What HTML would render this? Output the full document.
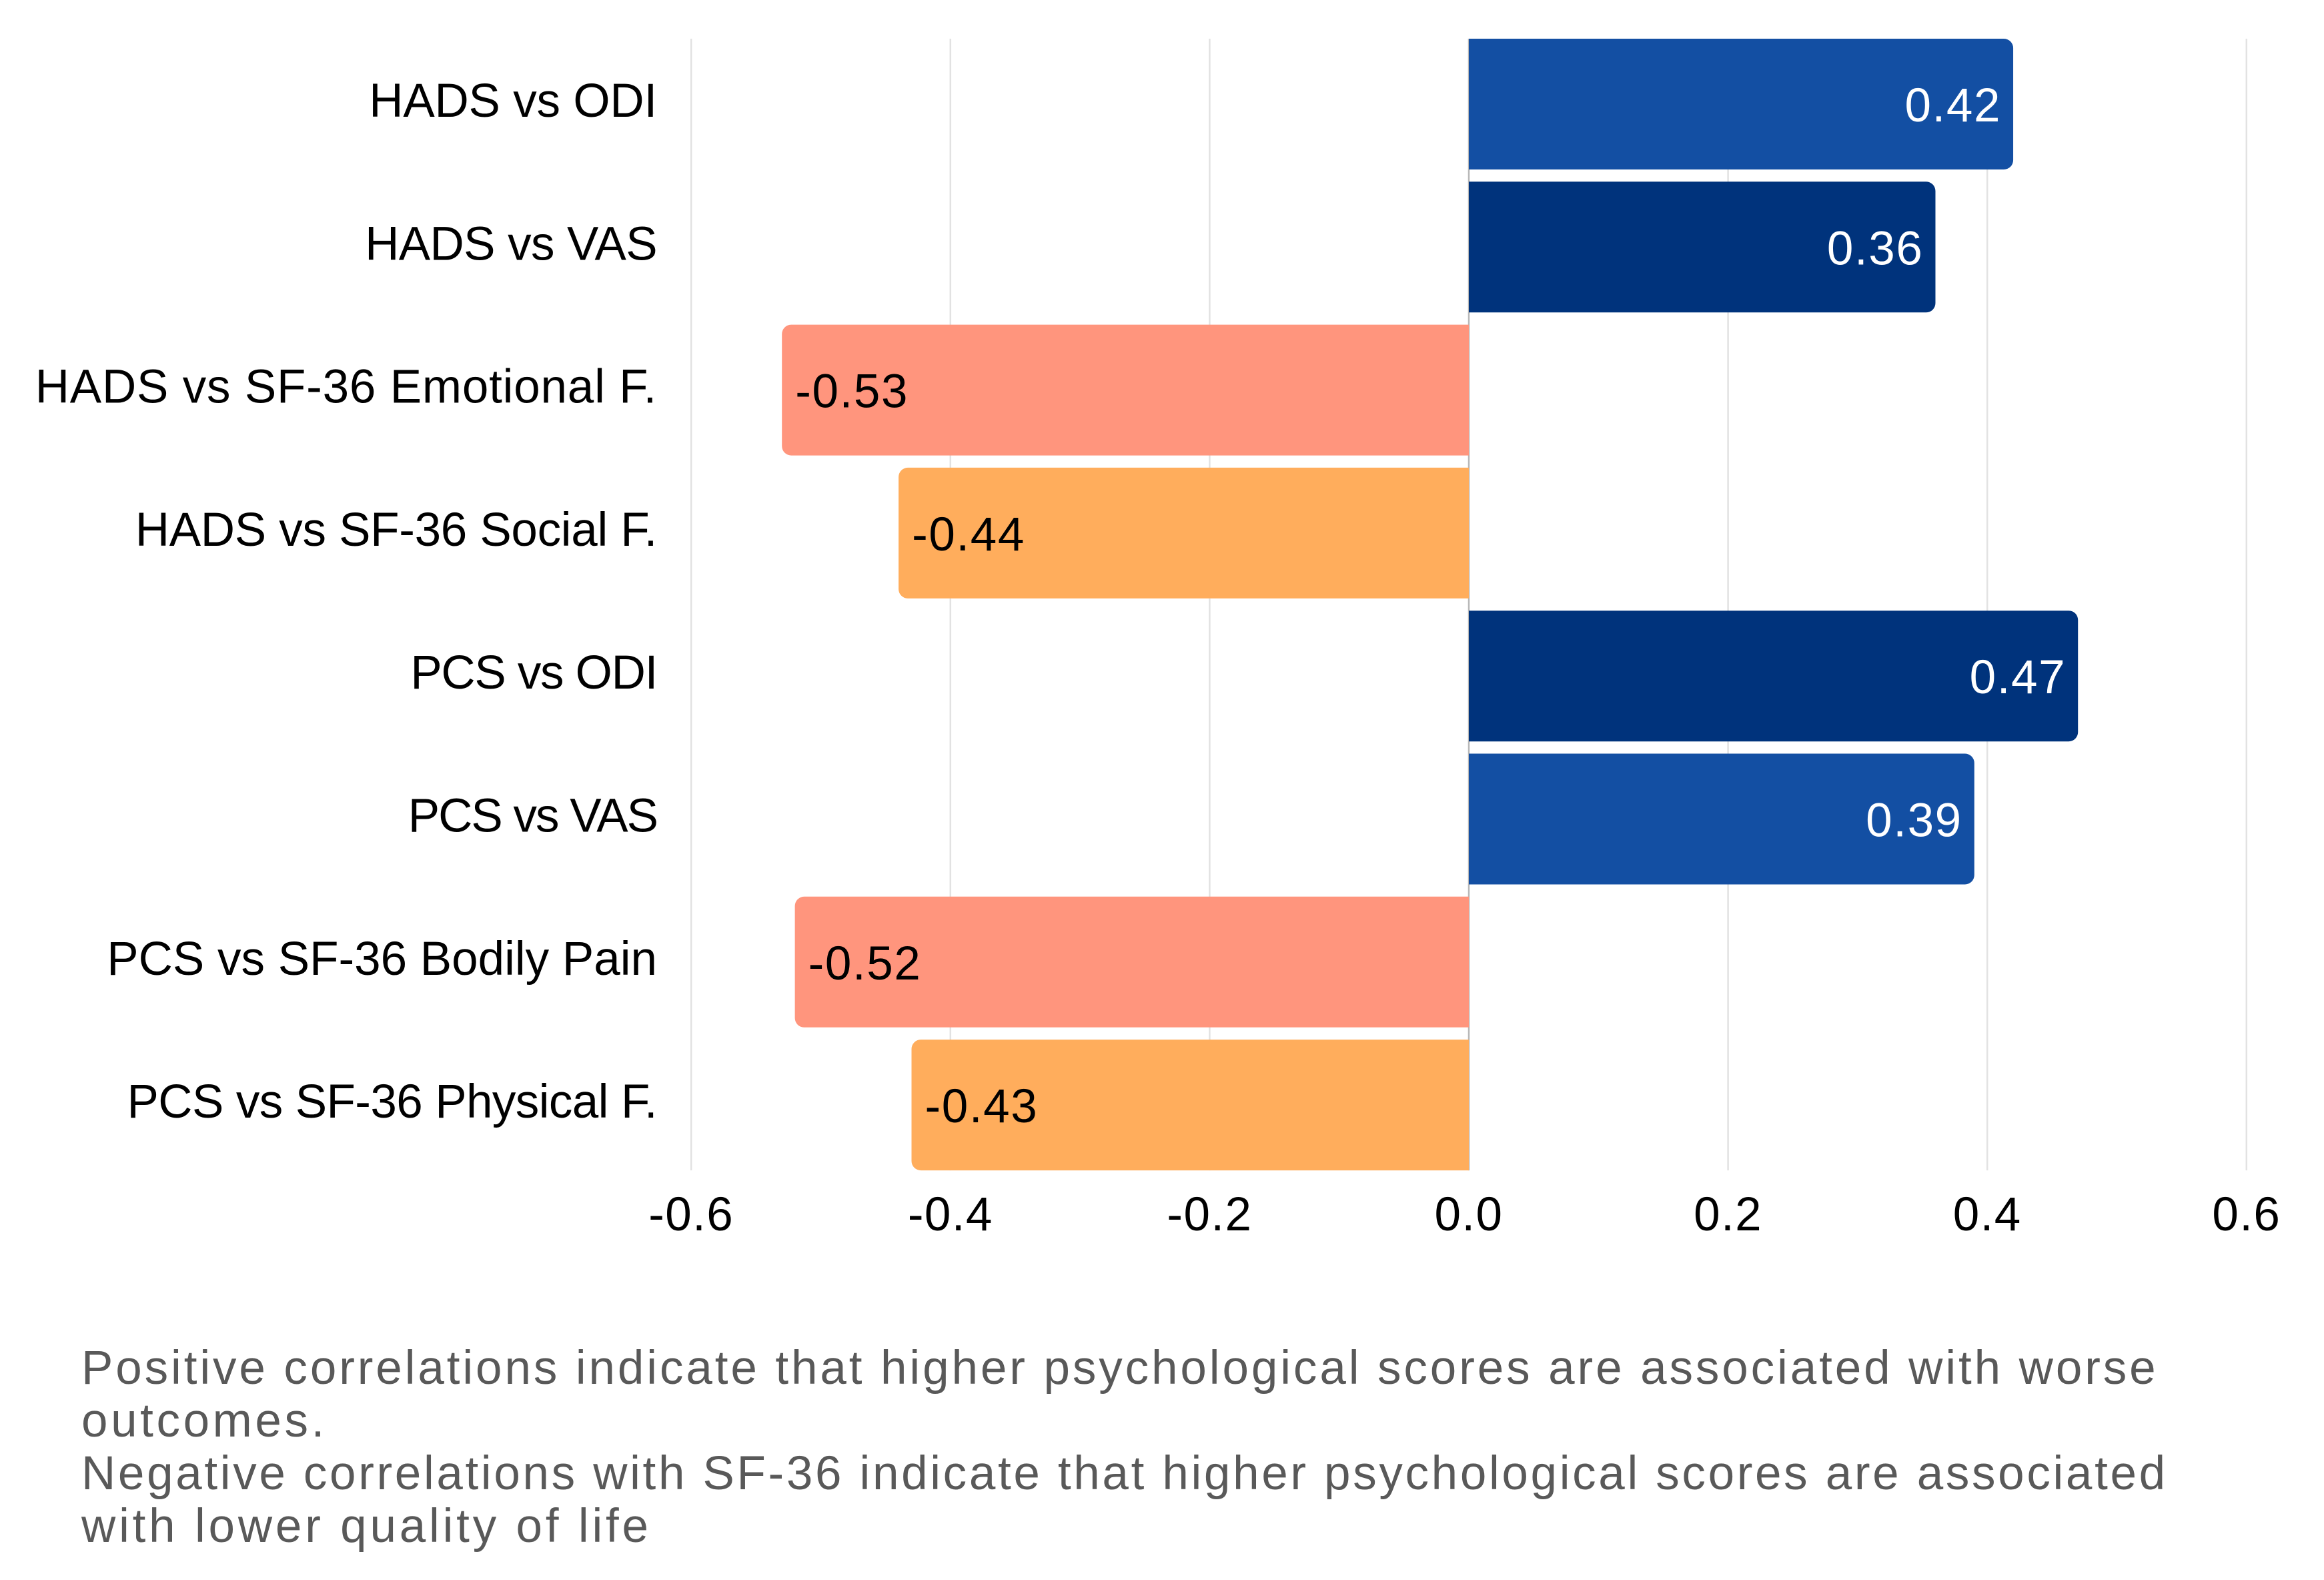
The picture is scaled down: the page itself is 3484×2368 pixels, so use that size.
<!DOCTYPE html>
<html lang="en">
<head>
<meta charset="utf-8">
<title>Correlation chart</title>
<style>
html,body{margin:0;padding:0;background:#fff;}
body{width:3484px;height:2368px;overflow:hidden;}
svg{display:block;}
text{font-family:"Liberation Sans",sans-serif;}
.cat{font-size:71px;fill:#000;}
.lab{font-size:71px;fill:#000;letter-spacing:1.4px;}
.val{font-size:71px;letter-spacing:1.6px;}
.cap{font-size:71px;fill:#595959;}
</style>
</head>
<body>
<svg id="chart" xmlns="http://www.w3.org/2000/svg" width="3484" height="2368" viewBox="0 0 3484 2368">
<g id="grid"></g>
<g id="bars"></g>
<g id="cats"></g>
<g id="ticks"></g>
<g id="values"></g>
<g>
<text class="cap" x="122" y="2074" style="letter-spacing:3.9px">Positive correlations indicate that higher psychological scores are associated with worse</text>
<text class="cap" x="122" y="2153" style="letter-spacing:4.6px">outcomes.</text>
<text class="cap" x="122" y="2232" style="letter-spacing:3.66px">Negative correlations with SF-36 indicate that higher psychological scores are associated</text>
<text class="cap" x="122" y="2311" style="letter-spacing:4.8px">with lower quality of life</text>
</g>
</svg>
<script>
const categories = ["HADS vs ODI","HADS vs VAS","HADS vs SF-36 Emotional F.","HADS vs SF-36 Social F.","PCS vs ODI","PCS vs VAS","PCS vs SF-36 Bodily Pain","PCS vs SF-36 Physical F."];
const correlations = [0.42,0.36,-0.53,-0.44,0.47,0.39,-0.52,-0.43];
const barGroups = ["mid","high","strongNeg","modNeg","high","mid","strongNeg","modNeg"];
const xTicks = [-0.6,-0.4,-0.2,0,0.2,0.4,0.6];

const NS = "http://www.w3.org/2000/svg";
const plot = {zeroX:2202, unitX:1943, top:58, step:214.3, barH:196, radius:14};
plot.bottom = plot.top + plot.step * (categories.length - 1) + plot.barH;
const groupFill = {mid:"#134fa3", high:"#00337c", strongNeg:"#ff957d", modNeg:"#ffad5c"};
const groupText = {mid:"#fff", high:"#fff", strongNeg:"#000", modNeg:"#000"};
const labelTracking = {
  "HADS vs ODI":"-0.2px",
  "HADS vs VAS":"-0.6px",
  "HADS vs SF-36 Emotional F.":"0.8px",
  "HADS vs SF-36 Social F.":"-0.3px",
  "PCS vs ODI":"-1.3px",
  "PCS vs VAS":"-2px",
  "PCS vs SF-36 Bodily Pain":"0px",
  "PCS vs SF-36 Physical F.":"-0.6px"
};

function xScale(v){ return plot.zeroX + v * plot.unitX; }
function yBand(i){ return plot.top + i * plot.step; }
function make(tag, parent, attrs){
  const el = document.createElementNS(NS, tag);
  for (const k in attrs) el.setAttribute(k, attrs[k]);
  parent.appendChild(el);
  return el;
}
function barPath(v, y){
  const x0 = xScale(0), x1 = xScale(v), h = plot.barH;
  const r = Math.min(plot.radius, Math.abs(x1 - x0));
  const d = v >= 0 ? 1 : -1;
  const sweep = v >= 0 ? 1 : 0;
  return "M" + x0 + " " + y + "H" + (x1 - d*r) +
    "A" + r + " " + r + " 0 0 " + sweep + " " + x1 + " " + (y + r) +
    "V" + (y + h - r) +
    "A" + r + " " + r + " 0 0 " + sweep + " " + (x1 - d*r) + " " + (y + h) +
    "H" + x0 + "Z";
}

const gridG = document.getElementById("grid");
const barsG = document.getElementById("bars");
const catsG = document.getElementById("cats");
const ticksG = document.getElementById("ticks");
const valuesG = document.getElementById("values");

xTicks.forEach(function(t){
  const line = make("line", gridG, {x1:xScale(t), x2:xScale(t), y1:plot.top, y2:plot.bottom, stroke:t===0?"#b8b8b8":"#e2e2e2", "stroke-width":2.5});
  
  
  const lab = make("text", ticksG, {class:"lab", x:xScale(t), y:1844, "text-anchor":"middle"});
  lab.textContent = t.toFixed(1);
  
  
});

categories.forEach(function(c, i){
  const v = correlations[i];
  const y = yBand(i);
  const bar = make("path", barsG, {d:barPath(v, y), fill:groupFill[barGroups[i]]});
  
  

  const cat = make("text", catsG, {class:"cat", x:985, y:y + 117, "text-anchor":"end"});
  cat.textContent = c;
  cat.style.letterSpacing = labelTracking[c] || "0px";
  
  

  const pos = v >= 0;
  const val = make("text", valuesG, {class:"val", x:xScale(v) + (pos ? -18 : 20), y:y + 124, "text-anchor":pos ? "end" : "start", fill:groupText[barGroups[i]]});
  val.textContent = v.toFixed(2);
  
  
});
</script>
</body>
</html>
